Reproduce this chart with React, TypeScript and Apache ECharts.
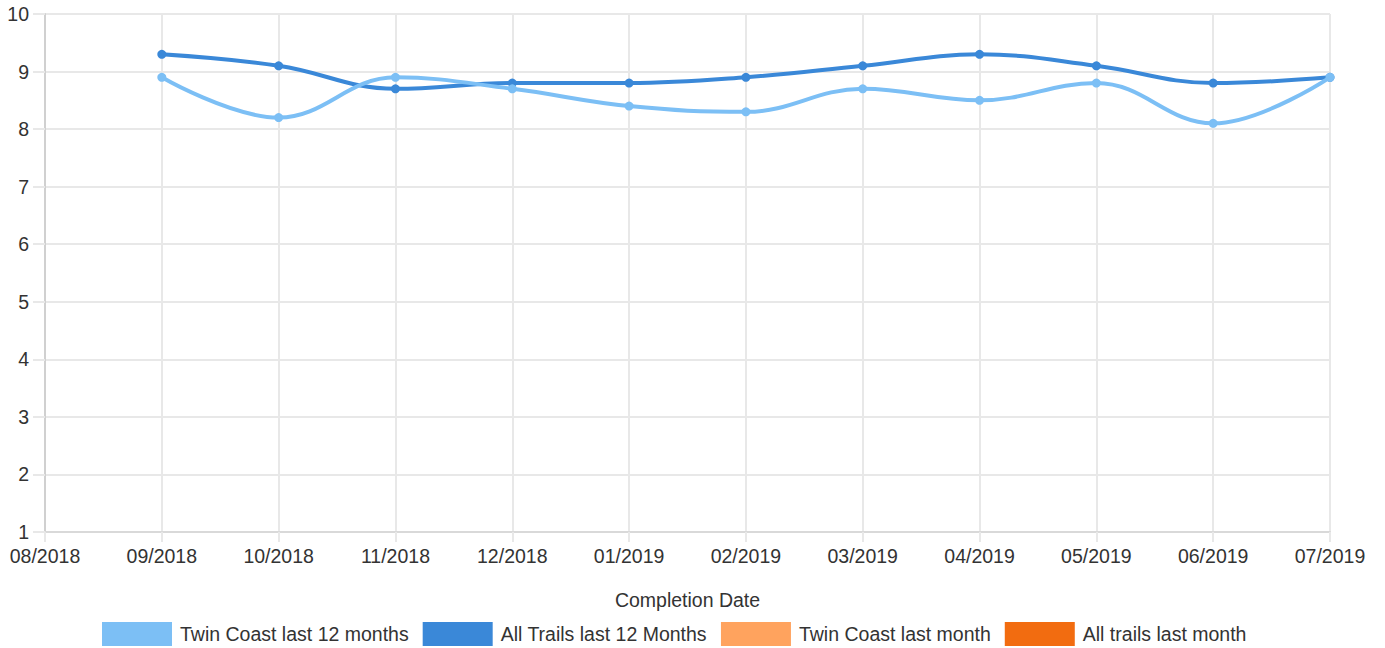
import React, { useEffect, useRef } from "react";
import * as echarts from "echarts";

const categories = ["08/2018", "09/2018", "10/2018", "11/2018", "12/2018", "01/2019", "02/2019", "03/2019", "04/2019", "05/2019", "06/2019", "07/2019"];
const twinCoast12 = [null, 8.9, 8.2, 8.9, 8.7, 8.4, 8.3, 8.7, 8.5, 8.8, 8.1, 8.9];
const allTrails12 = [null, 9.3, 9.1, 8.7, 8.8, 8.8, 8.9, 9.1, 9.3, 9.1, 8.8, 8.9];
const twinCoastMonth: (number | null)[] = [null, null, null, null, null, null, null, null, null, null, null, null];
const allTrailsMonth: (number | null)[] = [null, null, null, null, null, null, null, null, null, null, null, null];
const seriesNames = ["Twin Coast last 12 months", "All Trails last 12 Months", "Twin Coast last month", "All trails last month"];
const colors = ["#7cbff5", "#3a88d8", "#ffa35e", "#f26c10"];

const FONT = "'Liberation Sans', Arial, sans-serif";

export default function App() {
  const ref = useRef<HTMLDivElement>(null);
  useEffect(() => {
    document.body.style.margin = "0";
    const chart = echarts.init(ref.current!, null, { renderer: "svg" });
    const datasets = [twinCoast12, allTrails12, twinCoastMonth, allTrailsMonth];
    chart.setOption({
      animation: false,
      color: colors,
      textStyle: { fontFamily: FONT },
      grid: { left: 45, right: 55, top: 14, bottom: 116, containLabel: false },
      legend: {
        left: 97,
        top: 617,
        icon: "rect",
        itemWidth: 70,
        itemHeight: 24,
        itemGap: 14,
        textStyle: { fontSize: 19.5, color: "#333", fontFamily: FONT, padding: [0, 0, 0, 3] },
        data: seriesNames,
      },
      xAxis: {
        type: "category",
        data: categories,
        boundaryGap: false,
        name: "Completion Date",
        nameLocation: "middle",
        nameGap: 58,
        nameTextStyle: { fontSize: 19.5, color: "#333", fontFamily: FONT },
        axisLine: { lineStyle: { color: "#d9d9d9", width: 2 } },
        axisTick: { show: true, length: 10, lineStyle: { color: "#e8e8e8", width: 2 } },
        axisLabel: { fontSize: 19.5, color: "#333", margin: 14, fontFamily: FONT },
        splitLine: { show: true, lineStyle: { color: "#e8e8e8", width: 2 } },
      },
      yAxis: {
        type: "value",
        min: 1,
        max: 10,
        interval: 1,
        axisLine: { show: true, lineStyle: { color: "#d0d0d0", width: 2 } },
        axisTick: { show: true, length: 12, lineStyle: { color: "#e8e8e8", width: 2 } },
        axisLabel: { fontSize: 19.5, color: "#333", margin: 16, fontFamily: FONT },
        splitLine: { show: true, lineStyle: { color: "#e8e8e8", width: 2 } },
      },
      series: seriesNames.map((name, i) => ({
        name,
        type: "line",
        data: datasets[i],
        smooth: 0.4,
        symbol: "circle",
        symbolSize: 9,
        showSymbol: true,
        lineStyle: { width: 4, color: colors[i] },
        itemStyle: { color: colors[i] },
        z: i === 0 ? 3 : 2,
      })),
    });
    return () => chart.dispose();
  }, []);
  return <div ref={ref} style={{ width: 1385, height: 648 }} />;
}
